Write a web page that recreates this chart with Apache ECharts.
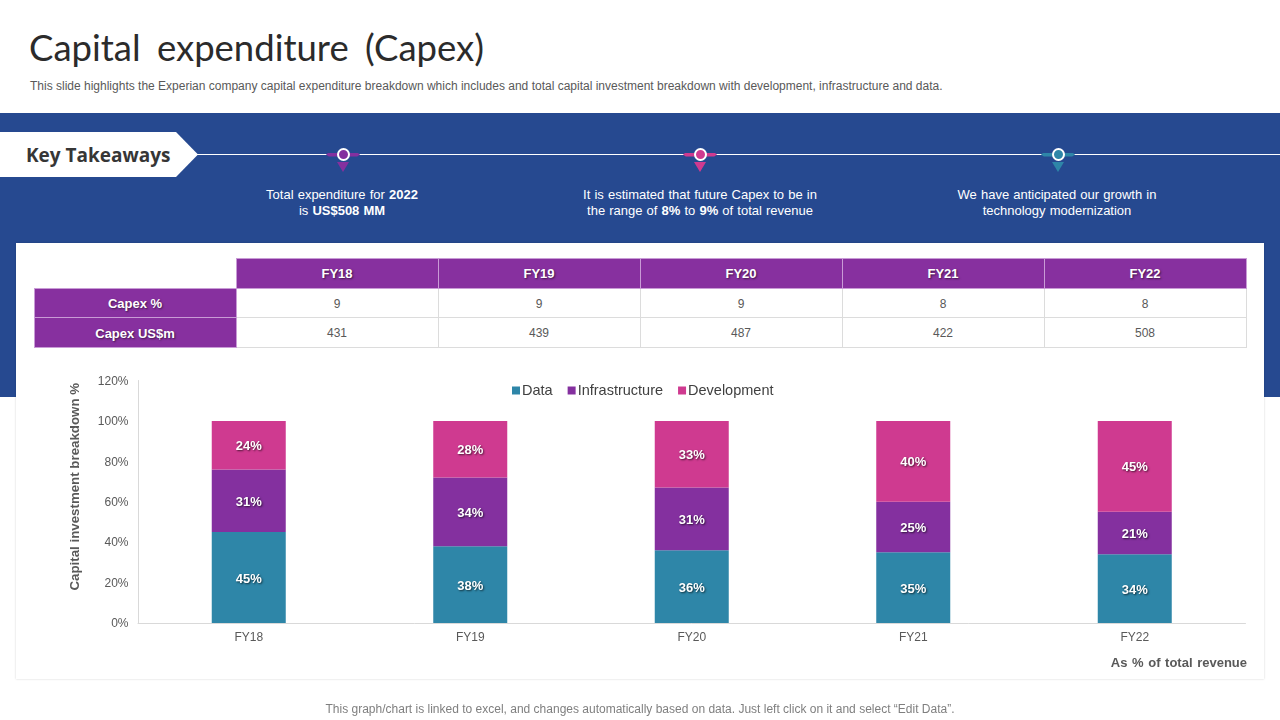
<!DOCTYPE html>
<html><head><meta charset="utf-8">
<script src="https://cdn.jsdelivr.net/npm/echarts@6/dist/echarts.min.js"></script>
<style>
html,body{margin:0;padding:0;background:#fff;width:1280px;height:720px;overflow:hidden;font-family:"Liberation Sans",Arial,sans-serif}
.abs{position:absolute}
#title{left:29px;top:24px;font:400 36.5px/46px Lato,sans-serif;color:#2b2b2b;word-spacing:7px;white-space:nowrap}
#sub{left:30px;top:79px;font-size:12px;line-height:15px;color:#595959;white-space:nowrap}
#band{left:0;top:113px;width:1280px;height:284px;background:#264990}
#line{left:190px;top:154px;width:1090px;height:1px;background:#fff}
#tag{left:0;top:132px;width:198px;height:45px;background:#fff;clip-path:polygon(0 0,176px 0,198px 22.5px,176px 45px,0 45px)}
#tagt{left:26px;top:141px;font:700 19px/28px "Open Sans",sans-serif;color:#363636;white-space:nowrap}
.tk{top:187px;width:300px;text-align:center;color:#fff;font-size:13px;line-height:16px;word-spacing:.5px}
.tk b{font-weight:700}
#card{left:16px;top:243px;width:1248px;height:436px;background:#fff;box-shadow:0 0 2px rgba(0,0,0,.18)}
#tbl{left:33.5px;top:258px;border-collapse:collapse;table-layout:fixed;width:1212px;font-size:12px}
#tbl td{height:29.7px;padding:1px 0 0;text-align:center;border:1px solid #dcdcdc;color:#595959;box-sizing:border-box}
#tbl td.h{background:#87309f;color:#fff;font:700 13px "Liberation Sans",sans-serif;border-color:#c99bd6;text-shadow:1px 1px 2px rgba(0,0,0,.55)}
#tbl td.e{border:none;background:transparent}
#chart{left:0;top:0;width:1280px;height:720px}
#foot{left:0;top:702px;width:1280px;text-align:center;font-size:12px;line-height:15px;color:#7f7f7f}
#note{right:33px;top:655px;font-size:13px;font-weight:700;color:#595959;word-spacing:1px;white-space:nowrap}
.pin{width:34px;height:30px;top:144.5px}
.pin .bar{position:absolute;left:0;top:8px;width:34px;height:4px}
.pin .ring{position:absolute;left:10.5px;top:3.5px;width:13px;height:13px;box-sizing:border-box;border:2.5px solid #fff;border-radius:50%}
.pin .tri{position:absolute;left:11px;top:17px;width:0;height:0;border-left:6px solid transparent;border-right:6px solid transparent;border-top:10px solid}
</style></head><body>
<div class="abs" id="title">Capital expenditure (Capex)</div>
<div class="abs" id="sub">This slide highlights the Experian company capital expenditure breakdown which includes and total capital investment breakdown with development, infrastructure and data.</div>
<div class="abs" id="band"></div>
<div class="abs" id="line"></div>
<div class="abs" id="tag"></div>
<div class="abs" id="tagt">Key Takeaways</div>
<div id="pins"></div>
<div class="abs tk" style="left:192px">Total expenditure for <b>2022</b><br>is <b>US$508 MM</b></div>
<div class="abs tk" style="left:550px">It is estimated that future Capex to be in<br>the range of <b>8%</b> to <b>9%</b> of total revenue</div>
<div class="abs tk" style="left:907px">We have anticipated our growth in<br>technology modernization</div>
<div class="abs" id="card"></div>
<table class="abs" id="tbl"></table>
<div class="abs" id="chart"></div>
<div class="abs" id="note">As % of total revenue</div>
<div class="abs" id="foot">This graph/chart is linked to excel, and changes automatically based on data. Just left click on it and select “Edit Data”.</div>
<script>
const categories = ['FY18','FY19','FY20','FY21','FY22'];
const dataShare = [45,38,36,35,34];
const infrastructureShare = [31,34,31,25,21];
const developmentShare = [24,28,33,40,45];
const capexPct = [9,9,9,8,8];
const capexUsd = [431,439,487,422,508];
const yTicks = [0,20,40,60,80,100,120];
const colData = '#2e86a8', colInfra = '#84309f', colDev = '#cf3a90';

// pins
[[343,colInfra],[700,colDev],[1058,colData]].forEach(([c,col])=>{
  const d=document.createElement('div');d.className='abs pin';d.style.left=(c-17)+'px';
  d.innerHTML=`<div class="bar" style="background:${col};clip-path:polygon(0 50%,8% 0,92% 0,100% 50%,92% 100%,8% 100%)"></div><div class="ring" style="background:${col}"></div><div class="tri" style="border-top-color:${col}"></div>`;
  document.getElementById('pins').appendChild(d);
});
// table
let h='<colgroup><col style="width:202px">'+categories.map(()=>'<col style="width:202px">').join('')+'</colgroup>';
h+='<tr><td class="e"></td>'+categories.map(c=>`<td class="h">${c}</td>`).join('')+'</tr>';
h+='<tr><td class="h">Capex %</td>'+capexPct.map(v=>`<td>${v}</td>`).join('')+'</tr>';
h+='<tr><td class="h">Capex US$m</td>'+capexUsd.map(v=>`<td>${v}</td>`).join('')+'</tr>';
document.getElementById('tbl').innerHTML=h;

const chart = echarts.init(document.getElementById('chart'),null,{renderer:'canvas',width:1280,height:720});
const lbl = {show:true,position:'inside',offset:[0,1.5],formatter:p=>p.value+'%',color:'#fff',fontFamily:'Liberation Sans',fontWeight:700,fontSize:13,
  textShadowColor:'rgba(0,0,0,.65)',textShadowBlur:2,textShadowOffsetX:1,textShadowOffsetY:1};
const ser=(name,data,color)=>({name,type:'bar',stack:'t',data,barWidth:74,itemStyle:{color},label:lbl,emphasis:{disabled:true}});
chart.setOption({
  animation:false,backgroundColor:'transparent',
  textStyle:{fontFamily:'Liberation Sans'},
  legend:{top:378,left:507,itemWidth:8,itemHeight:8,itemGap:15,icon:'rect',
    textStyle:{color:'#404040',fontSize:14.5,padding:[0,0,0,-3]},
    data:['Data','Infrastructure','Development']},
  grid:{left:138,right:34.5,top:380.5,bottom:97,containLabel:false},
  xAxis:{type:'category',data:categories,axisTick:{show:false},
    axisLine:{lineStyle:{color:'#d9d9d9'}},axisLabel:{color:'#595959',fontSize:12,margin:9}},
  yAxis:{type:'value',min:0,max:120,interval:20,
    name:'Capital investment breakdown %',nameLocation:'middle',nameGap:56.5,nameRotate:90,
    nameTextStyle:{color:'#595959',fontSize:13.3,fontWeight:700,padding:[0,0,0,30]},
    axisLine:{show:true,lineStyle:{color:'#d9d9d9'}},axisTick:{show:false},splitLine:{show:false},
    axisLabel:{margin:9.5,formatter:v=>yTicks.includes(v)?'{t|'+v+'%}':'',
      rich:{t:{color:'#595959',fontSize:12,padding:[2,0,0,0]}}}},
  series:[ser('Data',dataShare,colData),ser('Infrastructure',infrastructureShare,colInfra),ser('Development',developmentShare,colDev)]
});
</script></body></html>
